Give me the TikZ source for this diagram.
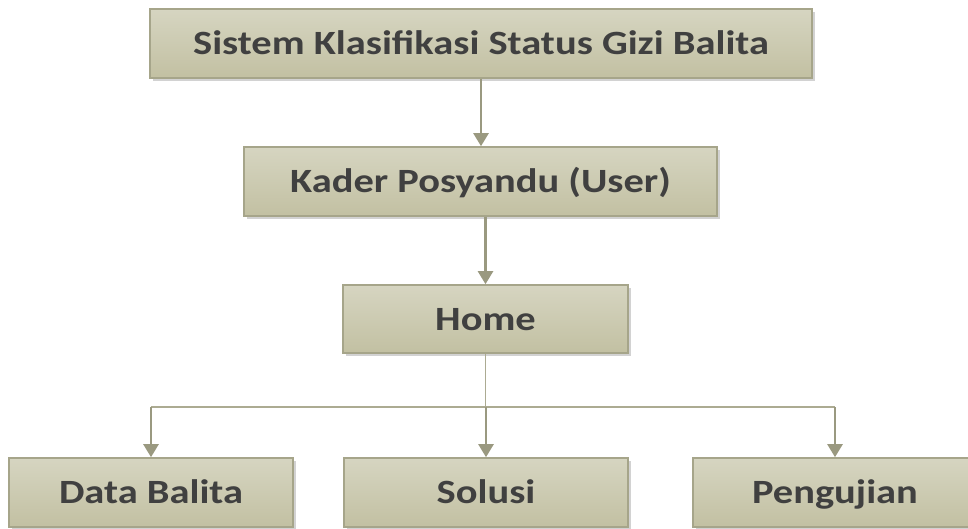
\documentclass[tikz,border=0pt]{standalone}
\usepackage{fontspec}
\setmainfont{Carlito}
\usetikzlibrary{arrows.meta,shadows}

\definecolor{boxtop}{HTML}{D6D5C1}
\definecolor{boxbot}{HTML}{C2C0A2}
\definecolor{boxedge}{HTML}{A6A58A}
\definecolor{linkcol}{HTML}{9A9980}
\definecolor{buscol}{HTML}{ACAB92}
\definecolor{textcol}{HTML}{404040}

% horizontally widened label text
\newcommand{\widetext}[1]{\scalebox{1.19}[1]{#1}}

\tikzset{
  menubox/.style={
    draw=boxedge, line width=1.6pt,
    top color=boxtop, bottom color=boxbot,
    drop shadow={shadow xshift=2.5pt, shadow yshift=-2.5pt, fill=black!22, opacity=0.8},
    text=textcol, font=\bfseries\fontsize{34}{40}\selectfont,
    text height=26pt, text depth=4pt,
    inner sep=0pt, align=center},
  flow/.style={draw=linkcol, line width=2.4pt,
    -{Triangle[length=13pt,width=15pt]}},
  bus/.style={draw=buscol, line width=1.8pt}
}

\begin{document}
\begin{tikzpicture}[x=1pt,y=-1pt]
  \useasboundingbox (0,0) rectangle (968,528);

  % page hierarchy
  \node[menubox, minimum width=662pt, minimum height=69pt] (sys) at (481,43.5)
    {\widetext{Sistem Klasifikasi Status Gizi Balita}};
  \node[menubox, minimum width=473pt, minimum height=69pt] (user) at (480.5,181.5)
    {\widetext{Kader Posyandu (User)}};
  \node[menubox, minimum width=285pt, minimum height=68pt] (home) at (485.5,319)
    {\widetext{Home}};
  \node[menubox, minimum width=284pt, minimum height=69pt] (data) at (151,492.5)
    {\widetext{Data Balita}};
  \node[menubox, minimum width=284pt, minimum height=69pt] (sol) at (486,492.5)
    {\widetext{Solusi}};
  \node[menubox, minimum width=284pt, minimum height=69pt] (uji) at (835,492.5)
    {\widetext{Pengujian}};

  % branching level below Home
  \coordinate (split) at (486,407);

  % connectors
  \draw[flow] (sys.south) -- (sys.south |- user.north);
  \draw[flow] (home.north |- user.south) -- (home.north);
  \draw[bus] (home.south) -- (home.south |- split);
  \draw[bus] (data.north |- split) -- (uji.north |- split);
  \draw[flow] (data.north |- split) -- (data.north);
  \draw[flow] (sol.north |- split) -- (sol.north);
  \draw[flow] (uji.north |- split) -- (uji.north);
\end{tikzpicture}
\end{document}
